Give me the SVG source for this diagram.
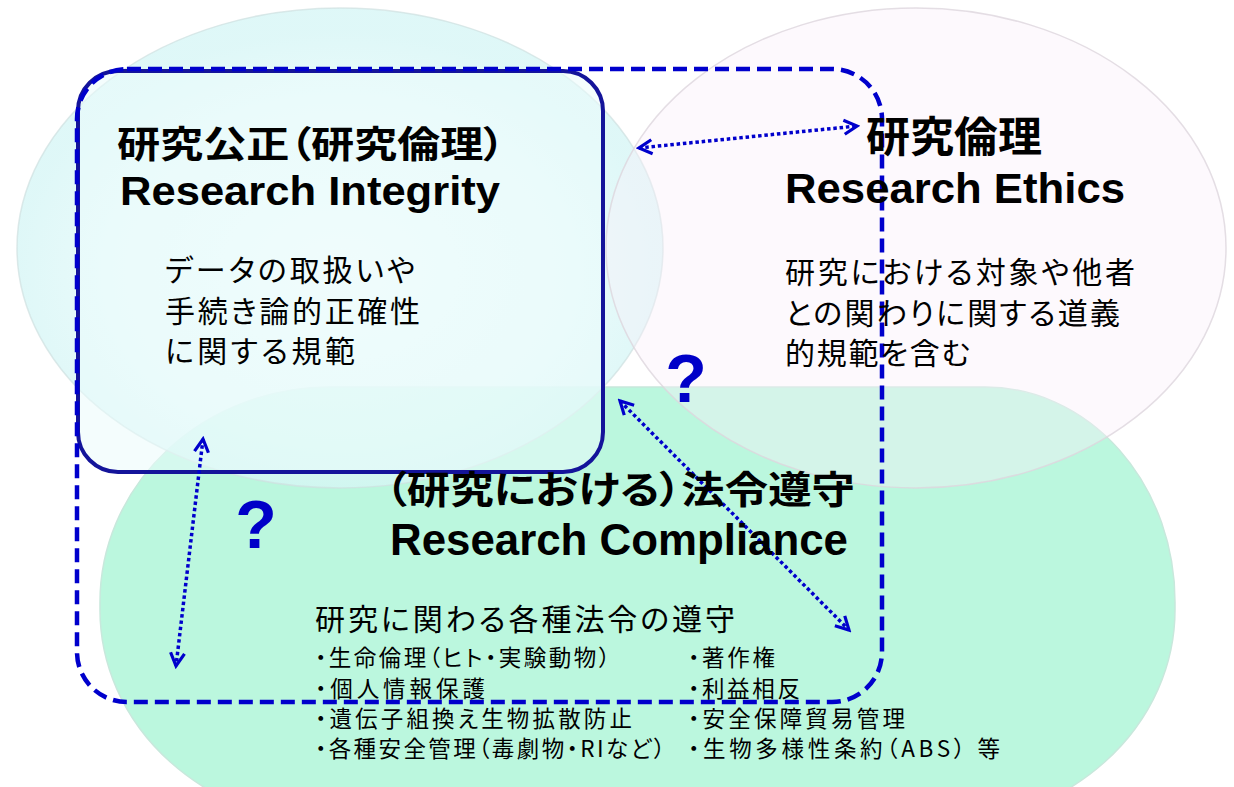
<svg xmlns="http://www.w3.org/2000/svg" width="1234" height="787" viewBox="0 0 1234 787">
<style>
.jp{font-family:"Noto Sans CJK JP","Noto Sans CJK SC",sans-serif;fill:#000;font-feature-settings:"palt"}
.en{font-family:"Liberation Sans",Arial,sans-serif;font-weight:700;fill:#000}
.b{font-weight:700}
.p{font-size:30px}
.li{font-size:22.5px}
.q{font-family:"Liberation Sans",Arial,sans-serif;font-weight:700;fill:#0000c8;font-size:68px;text-anchor:middle}
.dot{fill:none;stroke:#0000cc;stroke-width:3.5;stroke-dasharray:3.5 2.8;marker-start:url(#ah);marker-end:url(#ah)}
</style>
<defs>
<radialGradient id="gl" cx="0.5" cy="0.55" r="0.5">
<stop offset="0" stop-color="#f2fdfd"/>
<stop offset="0.7" stop-color="#e2f9f9"/>
<stop offset="1" stop-color="#d4f5f5"/>
</radialGradient>
<marker id="ah" markerUnits="userSpaceOnUse" markerWidth="18" markerHeight="18" viewBox="-2 -2 18 18" refX="13" refY="7" orient="auto-start-reverse">
<path d="M0,0 L13,7 L0,14" fill="none" stroke="#0000cc" stroke-width="3.2"/>
</marker>
</defs>
<rect width="1234" height="787" fill="#ffffff"/>
<g id="compliance-area">
<path d="M330,387 L985,387 A190,215 0 0 1 1175,602 L1175,610 A240,215 0 0 1 935,825 L340,825 A240,215 0 0 1 100,610 L100,602 A230,215 0 0 1 330,387 Z" fill="#bbf7de" stroke="#c8e8dc" stroke-width="1.5"/>
</g>
<g id="integrity-ellipse">
<ellipse cx="340" cy="248" rx="323" ry="240" fill="url(#gl)" fill-opacity="0.75" stroke="#cfe0e0" stroke-width="1.5" stroke-opacity="0.7"/>
</g>
<g id="ethics-ellipse">
<ellipse cx="916" cy="248" rx="310" ry="240" fill="#f9f0f9" fill-opacity="0.4" stroke="#ddd6dd" stroke-width="1.5" stroke-opacity="0.8"/>
</g>
<g id="integrity-box">
<rect x="78" y="71" width="525" height="401" rx="40" ry="40" fill="#ebfbfb" fill-opacity="0.55" stroke="#14149a" stroke-width="4"/>
</g>
<g id="scope-dashed">
<rect x="77" y="69" width="805" height="633" rx="50" ry="50" fill="none" stroke="#0000cc" stroke-width="4.5" stroke-dasharray="14 7"/>
</g>
<g id="connectors">
<path class="dot" d="M639,148 L857,126"/>
<path class="dot" d="M203,439 L176,666"/>
<path class="dot" d="M620,401 L849,630"/>
</g>
<g id="integrity-text">
<text class="jp b" x="117" y="158" font-size="37" textLength="388" lengthAdjust="spacingAndGlyphs">研究公正（研究倫理）</text>
<text class="en" x="120" y="205" font-size="40" textLength="380" lengthAdjust="spacingAndGlyphs">Research Integrity</text>
<text class="jp p" x="165" y="281" textLength="250">データの取扱いや</text>
<text class="jp p" x="165" y="322" textLength="255">手続き論的正確性</text>
<text class="jp p" x="165" y="362" textLength="190">に関する規範</text>
</g>
<g id="ethics-text">
<text class="jp b" x="866" y="152" font-size="42" textLength="176" lengthAdjust="spacingAndGlyphs">研究倫理</text>
<text class="en" x="785" y="203" font-size="42" textLength="340" lengthAdjust="spacingAndGlyphs">Research Ethics</text>
<text class="jp p" x="785" y="283" textLength="350">研究における対象や他者</text>
<text class="jp p" x="785" y="324" textLength="335">との関わりに関する道義</text>
<text class="jp p" x="785" y="364" textLength="185">的規範を含む</text>
</g>
<g id="compliance-text">
<text class="jp b" x="385" y="503" font-size="38" textLength="470" lengthAdjust="spacingAndGlyphs">（研究における）法令遵守</text>
<text class="en" x="390" y="555" font-size="44" textLength="458" lengthAdjust="spacingAndGlyphs">Research Compliance</text>
<text class="jp p" x="315" y="630" textLength="420">研究に関わる各種法令の遵守</text>
<text class="jp li" x="315" y="666" textLength="295">・生命倫理（ヒト・実験動物）</text>
<text class="jp li" x="315" y="697" textLength="170">・個人情報保護</text>
<text class="jp li" x="315" y="727" textLength="317">・遺伝子組換え生物拡散防止</text>
<text class="jp li" x="315" y="757" textLength="350">・各種安全管理（毒劇物・RIなど）</text>
<text class="jp li" x="688" y="666" textLength="87">・著作権</text>
<text class="jp li" x="688" y="697" textLength="112">・利益相反</text>
<text class="jp li" x="688" y="727" textLength="217">・安全保障貿易管理</text>
<text class="jp li" x="688" y="757" textLength="312">・生物多様性条約（ABS） 等</text>
</g>
<g id="question-marks">
<text class="q" x="686" y="402">?</text>
<text class="q" x="256" y="548">?</text>
</g>
</svg>
